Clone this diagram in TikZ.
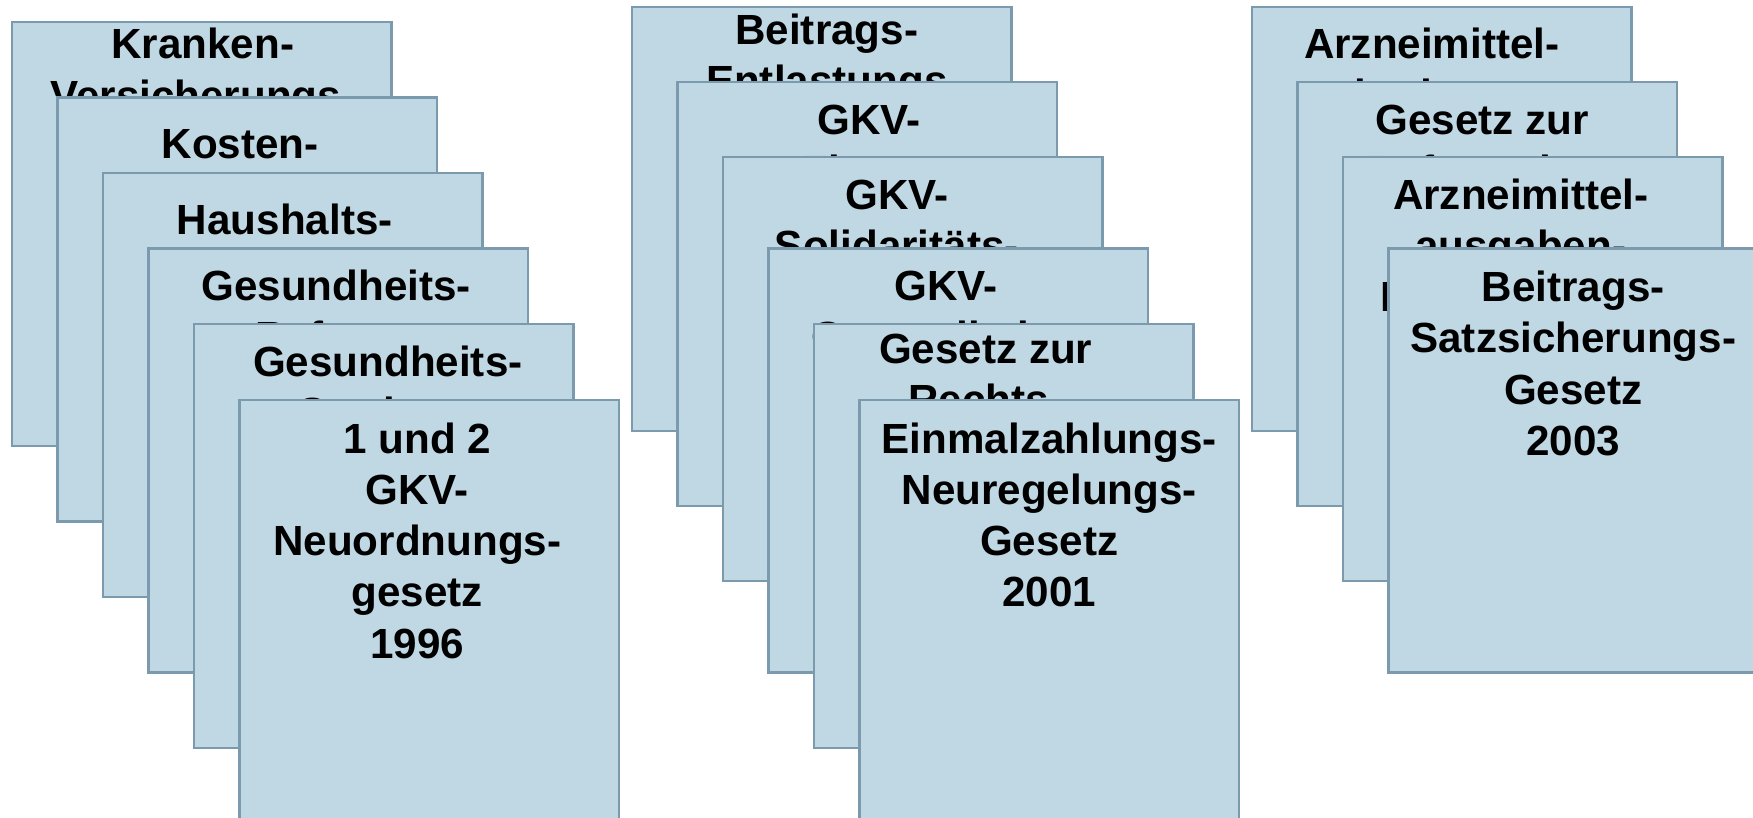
\documentclass[tikz,border=0pt]{standalone}
\usepackage{fontspec}
\setmainfont{Liberation Sans}

\definecolor{boxfill}{RGB}{192,216,228}
\definecolor{boxline}{RGB}{124,154,174}

\tikzset{
  law_box/.style={rectangle,fill=boxfill,draw=boxline,line width=.8pt,
    minimum width=3.795cm,minimum height=4.24cm,inner sep=0pt,outer sep=0pt,
    anchor=north west},
  law_txt/.style={inner sep=0pt,anchor=base,
    font=\fontsize{12pt}{14.6pt}\selectfont\bfseries},
}

\begin{document}
\begin{tikzpicture}[
  every node/.style={color=black},
  ]

  \path[use as bounding box,clip] (0,0) rectangle (17.53,-8.17);

  % box corner / text shift / baseline drop / name / text
  \foreach \X/\Y/\dx/\dy/\nm/\txt in {
      0.12/-0.22/0.01/-0.37/ka/{Kranken-\\Versicherungs-},
      0.575/-0.975/-0.07/-0.61/ko/{Kosten-},
      1.03/-1.73/-0.08/-0.61/ha/{Haushalts-},
      1.485/-2.485/-0.02/-0.52/gr/{Gesundheits-\\Reform-},
      1.94/-3.24/0.04/-0.52/gs/{Gesundheits-\\Struktur-},
      2.395/-4.00/-0.12/-0.53/nog/{1 und 2\\GKV-\\Neuordnungs-\\gesetz\\1996},
      6.32/-0.07/0.05/-0.37/be/{Beitrags-\\Entlastungs},
      6.775/-0.82/0.02/-0.52/fi/{GKV-\\Finanz},
      7.23/-1.57/-0.16/-0.52/so/{GKV-\\Solidaritäts-},
      7.685/-2.485/-0.12/-0.52/ge/{GKV-\\Gesundheits-},
      8.14/-3.24/-0.18/-0.39/re/{Gesetz zur\\Rechts-},
      8.595/-4.00/0.00/-0.53/ez/{Einmalzahlungs-\\Neuregelungs-\\Gesetz\\2001},
      12.52/-0.07/-0.10/-0.51/ab/{Arzneimittel-\\budget-},
      12.975/-0.82/-0.05/-0.52/rf/{Gesetz zur\\Reform des},
      13.43/-1.57/-0.12/-0.52/aa/{Arzneimittel-\\ausgaben-\\Begrenzungs-},
      13.885/-2.485/-0.05/-0.53/bs/{Beitrags-\\Satzsicherungs-\\Gesetz\\2003}}{
    \node[law_box] (box_\nm) at (\X,\Y) {};
    \node[law_txt] (txt_\nm) at ([xshift=\dx cm,yshift=\dy cm]box_\nm.north)
      {\parbox[t]{4cm}{\centering\txt}};
  }

\end{tikzpicture}
\end{document}
